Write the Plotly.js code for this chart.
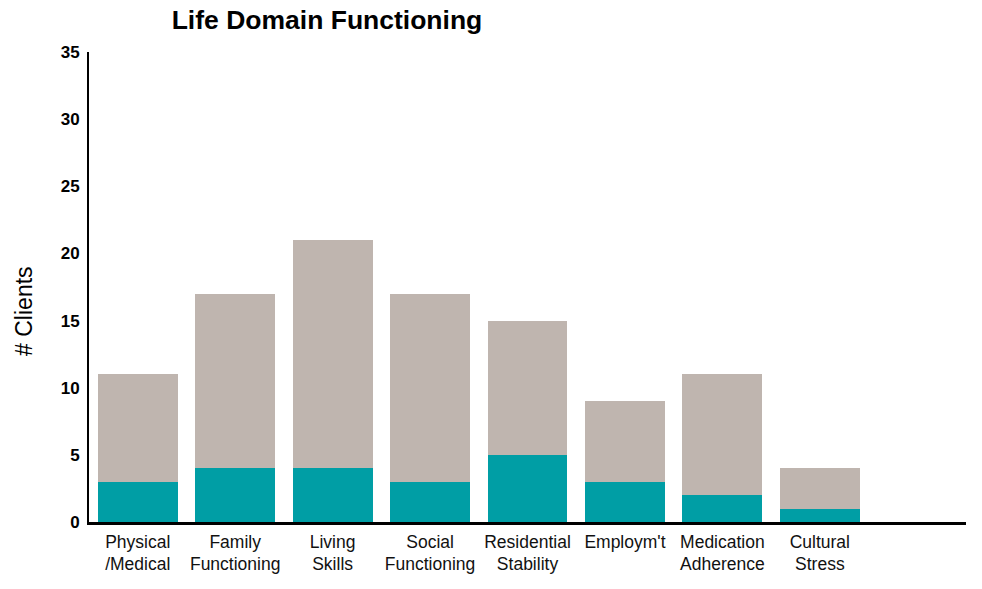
<!DOCTYPE html>
<html>
<head>
<meta charset="utf-8">
<script src="https://cdn.plot.ly/plotly-3.0.1.min.js"></script>
<style>html,body{margin:0;padding:0;background:#fff}#chart{width:982px;height:589px}</style>
</head>
<body>
<div id="chart"></div>
<script>
const categories = ["Physical<br>/Medical", "Family<br>Functioning", "Living<br>Skills", "Social<br>Functioning", "Residential<br>Stability", "Employm't", "Medication<br>Adherence", "Cultural<br>Stress"];
const tealValues = [3, 4, 4, 3, 5, 3, 2, 1];
const grayValues = [8, 13, 17, 14, 10, 6, 9, 3];
const yTicks = [0, 5, 10, 15, 20, 25, 30, 35];

const traces = [
  {type: "bar", x: categories, y: tealValues, marker: {color: "#009ea5"}, name: "A", hoverinfo: "y"},
  {type: "bar", x: categories, y: grayValues, marker: {color: "#bfb5af"}, name: "B", hoverinfo: "y"}
];

const layout = {
  width: 982, height: 589,
  margin: {l: 89, r: 16, t: 52, b: 67},
  barmode: "stack",
  bargap: 0.18,
  showlegend: false,
  paper_bgcolor: "#fff", plot_bgcolor: "#fff",
  font: {family: "Liberation Sans, Arial, sans-serif", color: "#000"},
  title: {text: "<b>Life Domain Functioning</b>", x: 0.333, xanchor: "center", y: 0.967, yanchor: "middle", font: {size: 26.5, color: "#000"}},
  xaxis: {
    type: "category", range: [-0.5, 8.5], showgrid: false, zeroline: false,
    showline: true, linecolor: "#000", linewidth: 2.5,
    ticks: "", tickfont: {size: 17.5, color: "#111"}, ticklabelstandoff: 2
  },
  yaxis: {
    range: [0, 35], tickvals: yTicks, showgrid: false, zeroline: false,
    showline: true, linecolor: "#000", linewidth: 2,
    ticks: "", tickfont: {size: 17, color: "#000", weight: "bold"}, ticklabelstandoff: 4
  },
  annotations: [{
    text: "# Clients", xref: "paper", yref: "paper", x: -0.0741, y: 0.447,
    xanchor: "center", yanchor: "middle", textangle: -90, showarrow: false,
    font: {size: 23, color: "#000"}
  }]
};

Plotly.newPlot("chart", traces, layout, {displayModeBar: false, staticPlot: true});
</script>
</body>
</html>
